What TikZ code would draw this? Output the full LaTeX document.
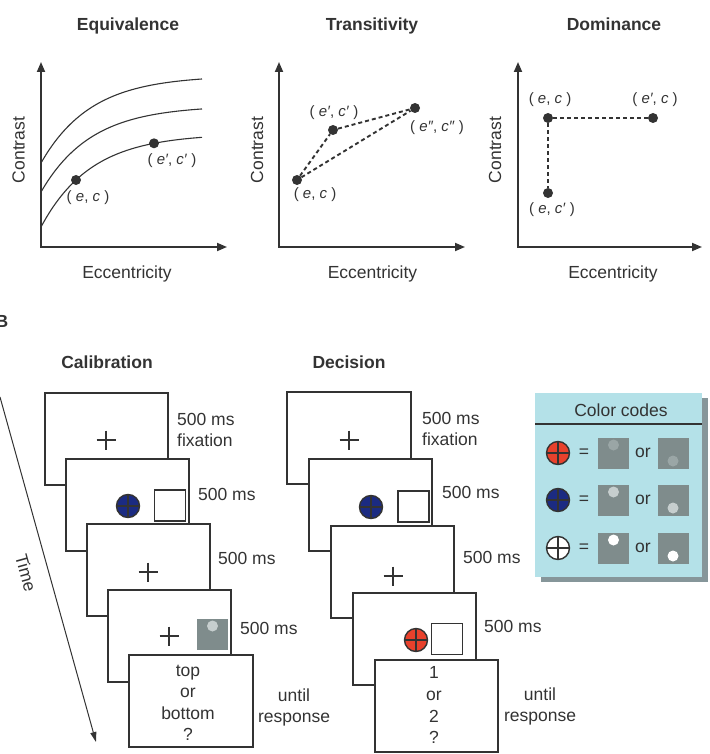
\documentclass[tikz,border=0pt]{standalone}
\usepackage{fontspec}
\setmainfont{Liberation Sans}
\usetikzlibrary{arrows.meta,calc}
\definecolor{ink}{HTML}{333333}
\definecolor{stimgray}{HTML}{7F8C8C}
\definecolor{dotfaint}{HTML}{9AA6A6}
\definecolor{dotlight}{HTML}{C6CECE}
\definecolor{probered}{HTML}{E8412C}
\definecolor{probeblue}{HTML}{1B2B82}
\definecolor{boxfill}{HTML}{B4E1E8}
\definecolor{boxshadow}{HTML}{86969A}
\begin{document}
\begin{tikzpicture}[x=1pt,y=-1pt,
  txt/.style={font=\fontsize{17.5}{21}\selectfont, text=ink, inner sep=0pt},
  ttl/.style={font=\fontsize{17.5}{21}\selectfont\bfseries, text=ink, inner sep=0pt},
  crd/.style={font=\fontsize{15}{18}\selectfont, text=ink, inner sep=0pt},
  dot/.style={circle, fill=ink, minimum size=10pt, inner sep=0pt},
  axis/.style={draw=ink, line width=1.8pt, line join=miter,
    {Triangle[length=10pt,width=8pt]}-{Triangle[length=10pt,width=8pt]}},
  curve/.style={draw=ink, line width=1.1pt},
  link/.style={draw=ink, line width=1.9pt, dash pattern=on 4pt off 3pt},
  screen/.style={draw=ink, line width=2pt, fill=white},
  fixcross/.style={draw=ink, line width=1.9pt},
  emptysq/.style={rectangle, draw=ink, line width=1.9pt, minimum size=31pt, inner sep=0pt},
  stim/.style={rectangle, fill=stimgray, minimum size=31pt, inner sep=0pt},
  probe/.style={circle, draw=ink, line width=1.4pt, minimum size=23pt, inner sep=0pt,
    path picture={
      \draw[ink, line width=1.2pt] (path picture bounding box.north) -- (path picture bounding box.south)
        (path picture bounding box.west) -- (path picture bounding box.east);}},
]
\useasboundingbox (0,0) rectangle (709,754);

% ---------- Equivalence ----------
\node[ttl, anchor=base] (tEq) at (128,31) {Equivalence};
\draw[axis] (41,62) -- (41,247) -- (227,247);
\node[txt, rotate=90] (yEq) at (18.5,150) {Contrast};
\node[txt, anchor=base] (xEq) at (127,278) {Eccentricity};
\draw[curve] plot[domain=0:161, samples=80, smooth] ({41+\x},{163-87.5*(1-exp(-\x/50))});
\draw[curve] plot[domain=0:161, samples=80, smooth] ({41+\x},{192-86.5*(1-exp(-\x/50))});
\draw[curve] plot[domain=0:161, samples=80, smooth] ({41+\x},{227-93.4*(1-exp(-\x/50))});
\node[dot] (eq1) at (76,180) {};
\node[dot] (eq2) at (154,143.3) {};
\node[crd] (leq1) at (88,198) {( \textit{e}, \textit{c} )};
\node[crd] (leq2) at (172,161) {( \textit{e′}, \textit{c′} )};

% ---------- Transitivity ----------
\node[ttl, anchor=base] (tTr) at (372,31) {Transitivity};
\draw[axis] (279,62) -- (279,247) -- (465,247);
\node[txt, rotate=90] (yTr) at (257,150) {Contrast};
\node[txt, anchor=base] (xTr) at (372.5,278) {Eccentricity};
\node[dot] (tr1) at (297,180) {};
\node[dot] (tr2) at (333,130) {};
\node[dot] (tr3) at (415,108) {};
\draw[link] (tr1) -- (tr2);
\draw[link] (tr2) -- (tr3);
\draw[link] (tr1) -- (tr3);
\node[crd] (ltr1) at (315,195) {( \textit{e}, \textit{c} )};
\node[crd] (ltr2) at (334,113) {( \textit{e′}, \textit{c′} )};
\node[crd] (ltr3) at (437,128) {( \textit{e″}, \textit{c″} )};

% ---------- Dominance ----------
\node[ttl, anchor=base] (tDo) at (614,31) {Dominance};
\draw[axis] (518,62) -- (518,247) -- (702,247);
\node[txt, rotate=90] (yDo) at (495,150) {Contrast};
\node[txt, anchor=base] (xDo) at (613,278) {Eccentricity};
\node[dot] (do1) at (548,118) {};
\node[dot] (do2) at (653,118) {};
\node[dot] (do3) at (548,193) {};
\draw[link] (do1) -- (do2);
\draw[link] (do1) -- (do3);
\node[crd] (ldo1) at (550,100) {( \textit{e}, \textit{c} )};
\node[crd] (ldo2) at (655,100) {( \textit{e′}, \textit{c} )};
\node[crd] (ldo3) at (552,210) {( \textit{e}, \textit{c′} )};

% ---------- Panel B ----------
\node[ttl, anchor=base west] (lblB) at (-4.6,327) {B};
\node[ttl, anchor=base] (tCal) at (107,368) {Calibration};
\node[ttl, anchor=base] (tDec) at (349,368) {Decision};

% time axis
\coordinate (t0) at (0,397);
\coordinate (t1) at (96,742);
\draw[ink, line width=1pt, -{Triangle[length=10pt,width=6pt]}] (t0) -- (t1);
\node[txt, rotate=-74.5] (time) at (26,573) {Time};

% calibration sequence
\draw[screen] (45,393) rectangle ++(123,92);
\draw[fixcross] (96.5,440) -- ++(19,0) (106,430.5) -- ++(0,19);
\node[txt, anchor=base west] (c1a) at (177,425) {500 ms};
\node[txt, anchor=base west] (c1b) at (177,446) {fixation};

\draw[screen] (66,458.5) rectangle ++(123,92);
\node[probe, fill=probeblue] (cpb) at (128,506) {};
\node[emptysq] (csq) at (170,505.5) {};
\node[txt, anchor=base west] (c2) at (198,500) {500 ms};

\draw[screen] (87,524) rectangle ++(123,92);
\draw[fixcross] (138.5,572) -- ++(19,0) (148,562.5) -- ++(0,19);
\node[txt, anchor=base west] (c3) at (218,564) {500 ms};

\draw[screen] (108,589.5) rectangle ++(123,92);
\draw[fixcross] (159.5,636) -- ++(19,0) (169,626.5) -- ++(0,19);
\node[stim] (cst) at (212.5,634) {};
\fill[dotlight] ($(cst)+(0,-8)$) circle (5.5);
\node[txt, anchor=base west] (c4) at (240,634) {500 ms};

\draw[screen] (129,655) rectangle ++(124,92);
\node[txt, anchor=base] (c5a) at (188,676) {top};
\node[txt, anchor=base] (c5b) at (188,697.5) {or};
\node[txt, anchor=base] (c5c) at (188,719) {bottom};
\node[txt, anchor=base] (c5d) at (188,740.5) {?};
\node[txt, anchor=base] (c6a) at (294,701) {until};
\node[txt, anchor=base] (c6b) at (294,722) {response};

% decision sequence
\draw[screen] (287,392) rectangle ++(124,92);
\draw[fixcross] (339.5,440) -- ++(19,0) (349,430.5) -- ++(0,19);
\node[txt, anchor=base west] (d1a) at (422,424) {500 ms};
\node[txt, anchor=base west] (d1b) at (422,445) {fixation};

\draw[screen] (309,459) rectangle ++(123,92);
\node[probe, fill=probeblue] (dpb) at (371,507) {};
\node[emptysq] (dsq1) at (413.5,506.5) {};
\node[txt, anchor=base west] (d2) at (442,498) {500 ms};

\draw[screen] (331,526) rectangle ++(123,92);
\draw[fixcross] (383.5,576) -- ++(19,0) (393,566.5) -- ++(0,19);
\node[txt, anchor=base west] (d3) at (463,563) {500 ms};

\draw[screen] (353,593) rectangle ++(123,92);
\node[probe, fill=probered] (dpr) at (416,640) {};
\node[emptysq] (dsq2) at (447,639) {};
\node[txt, anchor=base west] (d4) at (484,632) {500 ms};

\draw[screen] (375,660) rectangle ++(123,92);
\node[txt, anchor=base] (d5a) at (434,678) {1};
\node[txt, anchor=base] (d5b) at (434,700) {or};
\node[txt, anchor=base] (d5c) at (434,722) {2};
\node[txt, anchor=base] (d5d) at (434,743.5) {?};
\node[txt, anchor=base] (d6a) at (540,700) {until};
\node[txt, anchor=base] (d6b) at (540,721) {response};

% colour legend
\fill[boxshadow] (541,398) rectangle (708,582);
\fill[boxfill] (535,393) rectangle (702,577);
\draw[ink, line width=1.3pt] (535,424) -- (702,424);
\node[txt, anchor=base] (legt) at (621,416) {Color codes};

\foreach \r/\y/\pc/\dc in {1/453/probered/dotfaint, 2/500/probeblue/dotlight, 3/548/white/white}{
  \node[probe, fill=\pc] (lp\r) at (558,\y) {};
  \node[txt] (leq\r) at (584,\y) {=};
  \node[stim] (ls\r a) at (613.5,\y) {};
  \node[txt] (lor\r) at (643,\y) {or};
  \node[stim] (ls\r b) at (673,\y) {};
  \fill[\dc] (613.5,\y-8) circle (5.5);
  \fill[\dc] (673,\y+8) circle (5.5);
}
\end{tikzpicture}
\end{document}
